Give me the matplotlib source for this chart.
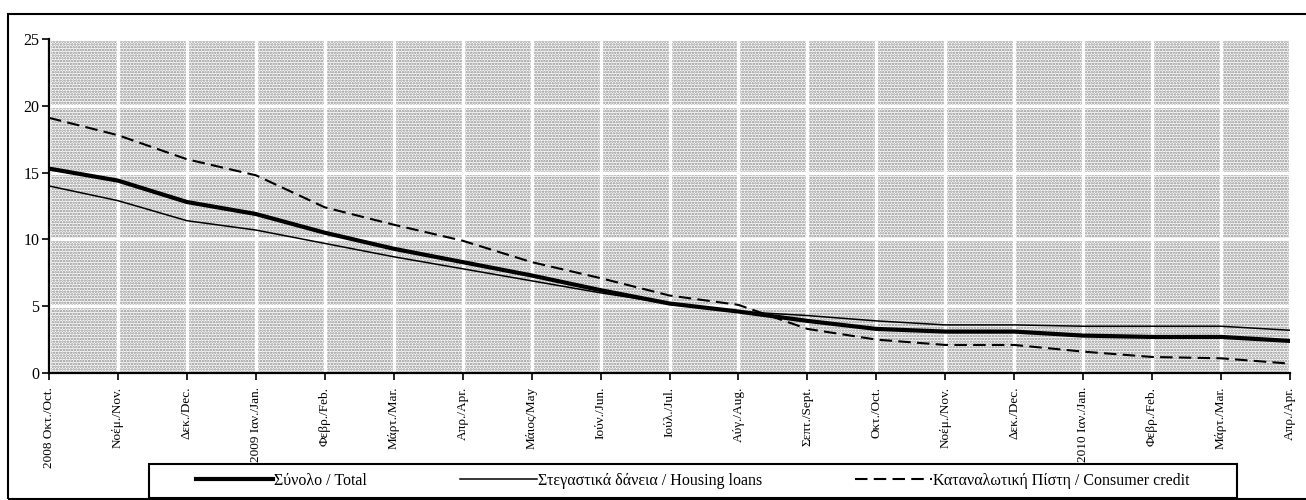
import matplotlib.pyplot as plt
from matplotlib.patches import Rectangle
import numpy as np

plt.rcParams['font.family'] = ['Liberation Serif', 'DejaVu Serif']
plt.rcParams['hatch.linewidth'] = 1.2

months = ['2008 Οκτ./Oct.', 'Νοέμ./Nov.', 'Δεκ./Dec.', '2009 Ιαν./Jan.', 'Φεβρ./Feb.',
          'Μάρτ./Mar.', 'Απρ./Apr.', 'Μάιος/May', 'Ιούν./Jun.', 'Ιούλ./Jul.',
          'Αύγ./Aug.', 'Σεπτ./Sept.', 'Οκτ./Oct.', 'Νοέμ./Nov.', 'Δεκ./Dec.',
          '2010 Ιαν./Jan.', 'Φεβρ./Feb.', 'Μάρτ./Mar.', 'Απρ./Apr.']

total = [15.3, 14.4, 12.8, 11.9, 10.5, 9.3, 8.3, 7.3, 6.2, 5.2,
         4.6, 3.9, 3.3, 3.1, 3.1, 2.8, 2.7, 2.7, 2.4]
housing = [14.0, 12.9, 11.4, 10.7, 9.7, 8.7, 7.8, 6.9, 6.0, 5.2,
           4.6, 4.3, 3.9, 3.6, 3.6, 3.5, 3.5, 3.5, 3.2]
consumer = [19.1, 17.8, 16.0, 14.8, 12.4, 11.1, 9.9, 8.3, 7.1, 5.8,
            5.1, 3.3, 2.5, 2.1, 2.1, 1.6, 1.2, 1.1, 0.7]

labels = ['Σύνολο / Total', 'Στεγαστικά δάνεια / Housing loans',
          'Καταναλωτική Πίστη / Consumer credit']

x = np.arange(len(months))

fig = plt.figure(figsize=(13.06, 5), dpi=100)
ax = fig.add_axes([49/1306, 1-373/500, (1290-49)/1306, (373-39)/500])

# dotted background + white grid on top of it
ax.add_patch(Rectangle((0, 0), 1, 1, transform=ax.transAxes, facecolor='white',
                       edgecolor='#8a8a8a', lw=0, hatch='......', zorder=0.1))
ax.set_axisbelow(True)
ax.grid(True, color='white', linewidth=2.4, zorder=0.5)

ax.plot(x, total, color='black', lw=3.0, label=labels[0], zorder=3)
ax.plot(x, housing, color='black', lw=1.1, label=labels[1], zorder=3)
ax.plot(x, consumer, color='black', lw=1.5, linestyle=(0, (6, 3)), label=labels[2], zorder=3)

ax.set_xlim(0, len(months) - 1)
ax.set_ylim(0, 25)
ax.set_yticks(range(0, 26, 5))
ax.set_xticks(x)
ax.set_xticklabels(months, rotation=90, fontsize=9.5)
ax.tick_params(axis='y', labelsize=11.5, length=5, width=1.2, direction='out', pad=2)
ax.tick_params(axis='x', length=5, width=1.2, direction='out', pad=5)

for s in ['top', 'right']:
    ax.spines[s].set_visible(False)
for s in ['left', 'bottom']:
    ax.spines[s].set_linewidth(1.6)
    ax.spines[s].set_zorder(4)

# legend box drawn separately so the side padding can be wider
fig.patches.append(Rectangle((149/1306, 1-498/500), (1237-149)/1306, (498-464)/500,
                             transform=fig.transFigure, facecolor='white',
                             edgecolor='black', lw=1.5, zorder=4))
leg = fig.legend(loc='center', bbox_to_anchor=(693/1306, 1-481/500), ncol=3,
                 fontsize=11.5, frameon=False, handlelength=4.8, handletextpad=0.1,
                 columnspacing=5.8, borderpad=0.3)
leg.set_zorder(5)

# outer border
fig.patches.append(Rectangle((8/1306, 0.002), 1.0, 1-14/500-0.002, transform=fig.transFigure,
                             fill=False, edgecolor='black', lw=1.5))

fig.savefig('out.png', dpi=100)
